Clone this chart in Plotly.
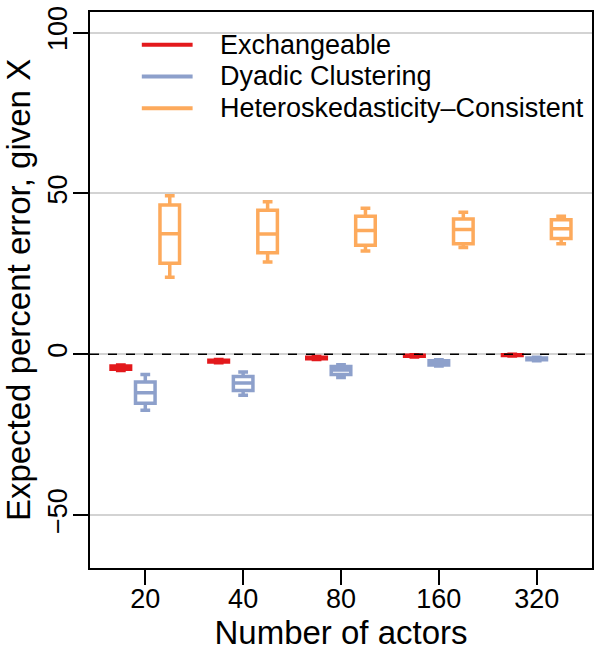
import plotly.graph_objects as go

actors = ["20", "40", "80", "160", "320"]
methods = ["Exchangeable", "Dyadic Clustering", "Heteroskedasticity\u2013Consistent"]
colors = ["#E3191C", "#8DA0CB", "#FDAA5C"]

# five-number summaries per method (lower whisker, q1, median, q3, upper whisker)
exch_low = [-5.0, -2.6, -1.6, -0.8, -0.5]
exch_q1 = [-4.6, -2.4, -1.4, -0.6, -0.35]
exch_med = [-4.1, -2.1, -1.1, -0.4, -0.2]
exch_q3 = [-3.6, -1.8, -0.9, -0.3, -0.1]
exch_high = [-3.3, -1.6, -0.7, -0.1, 0.0]

dyad_low = [-17.4, -12.7, -7.2, -3.6, -2.0]
dyad_q1 = [-15.2, -11.2, -6.3, -3.3, -1.7]
dyad_med = [-11.9, -8.9, -4.9, -2.6, -1.4]
dyad_q3 = [-8.6, -6.9, -3.8, -2.0, -1.1]
dyad_high = [-6.3, -5.5, -3.2, -1.7, -0.9]

hc_low = [24.0, 28.7, 32.1, 33.2, 34.4]
hc_q1 = [28.3, 31.6, 33.9, 34.4, 36.0]
hc_med = [37.5, 37.4, 38.5, 38.8, 39.0]
hc_q3 = [46.4, 44.8, 42.9, 42.1, 41.8]
hc_high = [49.3, 47.4, 45.4, 44.2, 42.9]

y_ticks = [-50, 0, 50, 100]

series = [
    (exch_low, exch_q1, exch_med, exch_q3, exch_high),
    (dyad_low, dyad_q1, dyad_med, dyad_q3, dyad_high),
    (hc_low, hc_q1, hc_med, hc_q3, hc_high),
]
offsets = [-0.25, 0.0, 0.25]

FONT = "Liberation Sans, Arial, Helvetica, sans-serif"

fig = go.Figure()
group_pos = list(range(1, len(actors) + 1))

for (lo, q1, med, q3, hi), col, off, name in zip(series, colors, offsets, methods):
    fig.add_trace(go.Box(
        x=[g + off for g in group_pos],
        lowerfence=lo, q1=q1, median=med, q3=q3, upperfence=hi,
        width=0.2, whiskerwidth=0.5,
        line=dict(color=col, width=3.5),
        fillcolor="white",
        boxpoints=False,
        name=name, showlegend=False, hoverinfo="skip",
    ))

# legend drawn as keys + labels (R-style legend without box)
leg_y = [0.9412, 0.8841, 0.8271]
for col, name, ly in zip(colors, methods, leg_y):
    fig.add_shape(type="line", xref="paper", yref="paper",
                  x0=0.1032, x1=0.2044, y0=ly, y1=ly,
                  line=dict(color=col, width=4))
    fig.add_annotation(text=name, xref="paper", yref="paper",
                       x=0.254, y=ly, xanchor="left", yanchor="middle",
                       showarrow=False, font=dict(size=27, family=FONT, color="black"))

# zero reference line: white underlay to hide grid, dashed line on top
fig.add_shape(type="line", xref="paper", x0=0, x1=1, yref="y", y0=0, y1=0,
              line=dict(color="white", width=2), layer="below")
fig.add_shape(type="line", xref="paper", x0=0, x1=1, yref="y", y0=0, y1=0,
              line=dict(color="black", width=1.5, dash="dash"), layer="above")

fig.update_layout(
    width=600, height=659,
    margin=dict(l=90, r=6, t=7, b=91),
    paper_bgcolor="white", plot_bgcolor="white",
    font=dict(family=FONT, color="black"),
    boxmode="overlay",
    showlegend=False,
    xaxis=dict(
        range=[0.435, 5.565],
        tickmode="array", tickvals=group_pos, ticktext=actors,
        ticks="outside", ticklen=15, tickwidth=1.5, tickcolor="black",
        tickfont=dict(size=27), ticklabelstandoff=-9,
        showgrid=False, zeroline=False,
        showline=True, linecolor="black", linewidth=2, mirror=True,
        title=dict(text="Number of actors", font=dict(size=33), standoff=6),
    ),
    yaxis=dict(
        range=[-66.4, 106.4],
        tickmode="array", tickvals=y_ticks,
        ticks="outside", ticklen=15, tickwidth=1.5, tickcolor="black",
        tickfont=dict(size=27), tickangle=-90, ticklabelstandoff=-5,
        showgrid=True, gridcolor="#D3D3D3", gridwidth=1.5,
        zeroline=False,
        showline=True, linecolor="black", linewidth=2, mirror=True,
        title=dict(text="Expected percent error, given X", font=dict(size=33), standoff=8),
    ),
)

fig.write_html("out.html")
